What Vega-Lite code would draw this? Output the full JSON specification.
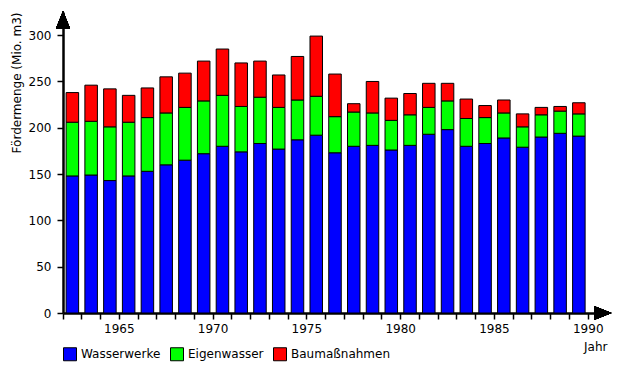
{
  "$schema": "https://vega.github.io/schema/vega-lite/v6.json",
  "autosize": "none",
  "padding": {"left": 63, "top": 12, "right": 13, "bottom": 52},
  "width": 544,
  "height": 301,
  "background": "white",
  "config": {
    "view": {"stroke": null},
    "font": "DejaVu Sans",
    "axis": {"labelFont": "DejaVu Sans", "titleFont": "DejaVu Sans", "labelFontSize": 12, "titleFontSize": 12, "titleFontWeight": "normal", "labelColor": "black", "titleColor": "black", "domainColor": "black", "tickColor": "black", "domainWidth": 2.5, "tickWidth": 1.5, "tickSize": 6, "grid": false},
    "legend": {"labelFont": "DejaVu Sans", "labelFontSize": 12, "labelColor": "black"}
  },
  "data": {
    "values": [
      {"Jahr": 1963, "Wasserwerke": 148, "Eigenwasser": 58, "Baumaßnahmen": 32},
      {"Jahr": 1964, "Wasserwerke": 149, "Eigenwasser": 58, "Baumaßnahmen": 39},
      {"Jahr": 1965, "Wasserwerke": 143, "Eigenwasser": 58, "Baumaßnahmen": 41},
      {"Jahr": 1966, "Wasserwerke": 148, "Eigenwasser": 58, "Baumaßnahmen": 29},
      {"Jahr": 1967, "Wasserwerke": 153, "Eigenwasser": 58, "Baumaßnahmen": 32},
      {"Jahr": 1968, "Wasserwerke": 160, "Eigenwasser": 56, "Baumaßnahmen": 39},
      {"Jahr": 1969, "Wasserwerke": 165, "Eigenwasser": 57, "Baumaßnahmen": 37},
      {"Jahr": 1970, "Wasserwerke": 172, "Eigenwasser": 57, "Baumaßnahmen": 43},
      {"Jahr": 1971, "Wasserwerke": 180, "Eigenwasser": 55, "Baumaßnahmen": 50},
      {"Jahr": 1972, "Wasserwerke": 174, "Eigenwasser": 49, "Baumaßnahmen": 47},
      {"Jahr": 1973, "Wasserwerke": 183, "Eigenwasser": 50, "Baumaßnahmen": 39},
      {"Jahr": 1974, "Wasserwerke": 177, "Eigenwasser": 45, "Baumaßnahmen": 35},
      {"Jahr": 1975, "Wasserwerke": 187, "Eigenwasser": 43, "Baumaßnahmen": 47},
      {"Jahr": 1976, "Wasserwerke": 192, "Eigenwasser": 42, "Baumaßnahmen": 65},
      {"Jahr": 1977, "Wasserwerke": 173, "Eigenwasser": 39, "Baumaßnahmen": 46},
      {"Jahr": 1978, "Wasserwerke": 180, "Eigenwasser": 37, "Baumaßnahmen": 9},
      {"Jahr": 1979, "Wasserwerke": 181, "Eigenwasser": 35, "Baumaßnahmen": 34},
      {"Jahr": 1980, "Wasserwerke": 176, "Eigenwasser": 32, "Baumaßnahmen": 24},
      {"Jahr": 1981, "Wasserwerke": 181, "Eigenwasser": 33, "Baumaßnahmen": 23},
      {"Jahr": 1982, "Wasserwerke": 193, "Eigenwasser": 29, "Baumaßnahmen": 26},
      {"Jahr": 1983, "Wasserwerke": 198, "Eigenwasser": 31, "Baumaßnahmen": 19},
      {"Jahr": 1984, "Wasserwerke": 180, "Eigenwasser": 30, "Baumaßnahmen": 21},
      {"Jahr": 1985, "Wasserwerke": 183, "Eigenwasser": 28, "Baumaßnahmen": 13},
      {"Jahr": 1986, "Wasserwerke": 189, "Eigenwasser": 27, "Baumaßnahmen": 14},
      {"Jahr": 1987, "Wasserwerke": 179, "Eigenwasser": 22, "Baumaßnahmen": 14},
      {"Jahr": 1988, "Wasserwerke": 190, "Eigenwasser": 24, "Baumaßnahmen": 8},
      {"Jahr": 1989, "Wasserwerke": 194, "Eigenwasser": 24, "Baumaßnahmen": 5},
      {"Jahr": 1990, "Wasserwerke": 191, "Eigenwasser": 24, "Baumaßnahmen": 12}
    ]
  },
  "layer": [
    {
      "transform": [{"fold": ["Wasserwerke", "Eigenwasser", "Baumaßnahmen"], "as": ["Art", "Menge"]}],
      "mark": {"type": "bar", "width": {"band": 0.667}, "stroke": "black", "strokeWidth": 1},
      "encoding": {
        "x": {
          "field": "Jahr", "type": "ordinal",
          "scale": {"domain": [1963, 1964, 1965, 1966, 1967, 1968, 1969, 1970, 1971, 1972, 1973, 1974, 1975, 1976, 1977, 1978, 1979, 1980, 1981, 1982, 1983, 1984, 1985, 1986, 1987, 1988, 1989, 1990, 1991], "paddingInner": 0, "paddingOuter": 0},
          "axis": {
            "bandPosition": 0,
            "labelExpr": "datum.value % 5 == 0 ? datum.label : ''",
            "labelAngle": 0,
            "labelOffset": 9.38,
            "labelOverlap": false,
            "labelFlush": false,
            "labelPadding": 4,
            "title": "Jahr",
            "titleAnchor": "end",
            "titlePadding": 7
          }
        },
        "y": {
          "field": "Menge", "type": "quantitative", "stack": "zero",
          "scale": {"domain": [0, 325], "nice": false},
          "axis": {
            "values": [0, 50, 100, 150, 200, 250, 300],
            "labelPadding": 6,
            "title": "Fördermenge (Mio. m3)",
            "titleAnchor": "end",
            "titlePadding": 5
          }
        },
        "color": {
          "field": "Art", "type": "nominal",
          "scale": {"domain": ["Wasserwerke", "Eigenwasser", "Baumaßnahmen"], "range": ["#0000ff", "#00ff00", "#ff0000"]},
          "legend": {
            "title": null, "orient": "none", "direction": "horizontal",
            "legendX": 0, "legendY": 335,
            "symbolType": "square", "symbolSize": 169, "symbolStrokeColor": "black", "symbolStrokeWidth": 1, "symbolOpacity": 1,
            "labelOffset": 4, "columnPadding": 7
          }
        },
        "order": {"field": "Art", "sort": "descending"}
      }
    },
    {
      "mark": {"type": "point", "shape": "M-0.8,1L0,-1L0.8,1Z", "filled": true, "color": "black", "opacity": 1, "size": 289},
      "encoding": {"x": {"datum": 1963, "type": "ordinal", "bandPosition": 0}, "y": {"datum": 316.5, "type": "quantitative"}}
    },
    {
      "mark": {"type": "point", "shape": "M-1,-0.8L1,0L-1,0.8Z", "filled": true, "color": "black", "opacity": 1, "size": 289},
      "encoding": {"x": {"datum": 1991, "type": "ordinal", "bandPosition": 0.78}, "y": {"datum": 0, "type": "quantitative"}}
    }
  ]
}
